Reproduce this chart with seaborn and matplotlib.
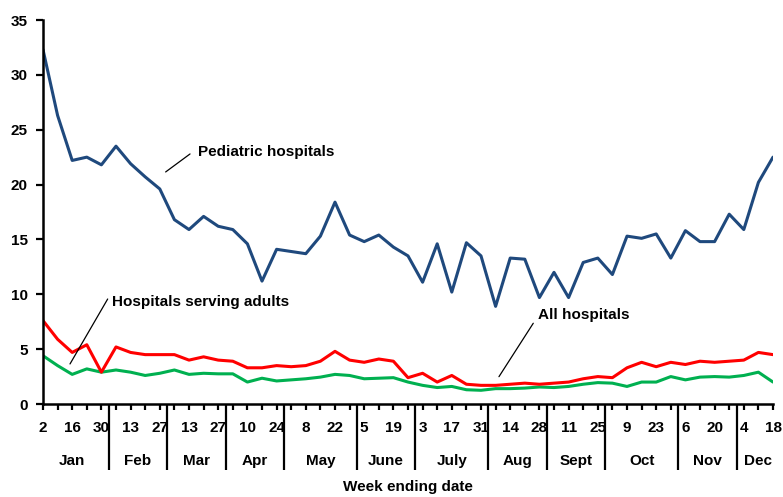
import numpy as np
import pandas as pd
import matplotlib.pyplot as plt
import matplotlib.transforms as mtransforms
import seaborn as sns

# =============================================
# 1. Data
# =============================================
month_names = ["Jan", "Feb", "Mar", "Apr", "May", "June",
               "July", "Aug", "Sept", "Oct", "Nov", "Dec"]
weeks_per_month = [5, 4, 4, 4, 5, 4, 5, 4, 4, 5, 4, 3]
week_days = [2, 9, 16, 23, 30,
             6, 13, 20, 27,
             6, 13, 20, 27,
             3, 10, 17, 24,
             1, 8, 15, 22, 29,
             5, 12, 19, 26,
             3, 10, 17, 24, 31,
             7, 14, 21, 28,
             4, 11, 18, 25,
             2, 9, 16, 23, 30,
             6, 13, 20, 27,
             4, 11, 18]

pediatric = [32.3, 26.3, 22.2, 22.5, 21.8, 23.5, 21.9, 20.7, 19.6, 16.8,
             15.9, 17.1, 16.2, 15.9, 14.6, 11.2, 14.1, 13.9, 13.7, 15.3,
             18.4, 15.4, 14.8, 15.4, 14.3, 13.5, 11.1, 14.6, 10.2, 14.7,
             13.5, 8.9, 13.3, 13.2, 9.7, 12.0, 9.7, 12.9, 13.3, 11.8,
             15.3, 15.1, 15.5, 13.3, 15.8, 14.8, 14.8, 17.3, 15.9, 20.2,
             22.5]
all_hosp = [7.6, 5.9, 4.7, 5.4, 2.9, 5.2, 4.7, 4.5, 4.5, 4.5,
            4.0, 4.3, 4.0, 3.9, 3.3, 3.3, 3.5, 3.4, 3.5, 3.9,
            4.8, 4.0, 3.8, 4.1, 3.9, 2.4, 2.8, 2.0, 2.6, 1.8,
            1.7, 1.7, 1.8, 1.9, 1.8, 1.9, 2.0, 2.3, 2.5, 2.4,
            3.3, 3.8, 3.4, 3.8, 3.6, 3.9, 3.8, 3.9, 4.0, 4.7,
            4.5]
adult_hosp = [4.4, 3.5, 2.7, 3.2, 2.9, 3.1, 2.9, 2.6, 2.8, 3.1,
              2.7, 2.8, 2.75, 2.75, 2.0, 2.35, 2.1, 2.2, 2.3, 2.45,
              2.7, 2.6, 2.3, 2.35, 2.4, 2.0, 1.7, 1.5, 1.6, 1.3,
              1.25, 1.4, 1.4, 1.45, 1.55, 1.5, 1.6, 1.8, 1.95, 1.9,
              1.6, 2.0, 2.0, 2.5, 2.2, 2.45, 2.5, 2.45, 2.6, 2.9,
              2.0]

n = len(week_days)
week_idx = np.arange(n)
df = pd.DataFrame({
    "week": np.tile(week_idx, 3),
    "rate": adult_hosp + all_hosp + pediatric,
    "group": ["Hospitals serving adults"] * n + ["All hospitals"] * n
             + ["Pediatric hospitals"] * n,
})
palette = {"Hospitals serving adults": "#00b050",
           "All hospitals": "#ff0000",
           "Pediatric hospitals": "#1f497d"}

# =============================================
# 2. Plotting
# =============================================
sns.set_theme(style="white")
plt.rcParams["font.family"] = ["Liberation Sans", "DejaVu Sans"]
plt.rcParams["font.weight"] = "bold"
plt.rcParams["text.color"] = "black"
plt.rcParams["axes.labelcolor"] = "black"
plt.rcParams["xtick.color"] = "black"
plt.rcParams["ytick.color"] = "black"

FS = 11

fig = plt.figure(figsize=(7.83, 4.97), dpi=100)
ax = fig.add_axes([43 / 783, 1 - 404 / 497, 730 / 783, 384 / 497])

sns.lineplot(data=df, x="week", y="rate", hue="group",
             hue_order=["Hospitals serving adults", "All hospitals", "Pediatric hospitals"],
             palette=palette, linewidth=2.2, legend=False, ax=ax)

ax.set_xlim(0, n - 1)
ax.set_ylim(0, 35)
ax.set_yticks(np.arange(0, 36, 5))
ax.set_xticks(week_idx)
ax.set_xticklabels([str(d) if i % 2 == 0 else "" for i, d in enumerate(week_days)])
ax.set_ylabel("")
ax.set_xlabel("Week ending date", fontsize=FS, fontweight="bold", color="black")
ax.xaxis.set_label_coords(0.5, -0.197)

for side in ["top", "right"]:
    ax.spines[side].set_visible(False)
for side in ["left", "bottom"]:
    ax.spines[side].set_color("black")
    ax.spines[side].set_linewidth(1.8)

ax.tick_params(axis="y", direction="out", length=5, width=1.6, colors="black",
               left=True, pad=6, labelsize=FS)
ax.tick_params(axis="x", direction="out", length=4, width=1.6, colors="black",
               bottom=True, pad=8, labelsize=FS)
for lab in ax.get_xticklabels() + ax.get_yticklabels():
    lab.set_fontweight("bold")

# month group separators and labels
trans = mtransforms.blended_transform_factory(ax.transData, ax.transAxes)
bounds = np.cumsum(weeks_per_month)[:-1] - 0.5
for b in bounds:
    ax.plot([b, b], [0, -0.172], transform=trans, color="black", lw=1.6,
            clip_on=False, solid_capstyle="butt")
edges = np.concatenate([[-0.5], bounds, [n - 0.5]])
for k, name in enumerate(month_names):
    ax.text((edges[k] + edges[k + 1]) / 2, -0.149, name, transform=trans,
            ha="center", va="center", fontsize=FS, fontweight="bold")

# series labels with pointer lines
ax.text(10.6, 23.0, "Pediatric hospitals", ha="left", va="center",
        fontsize=FS, fontweight="bold")
ax.plot([10.07, 8.40], [22.79, 21.15], color="black", lw=0.9)
ax.text(4.73, 9.3, "Hospitals serving adults", ha="left", va="center",
        fontsize=FS, fontweight="bold")
ax.plot([4.43, 1.85], [9.57, 3.65], color="black", lw=0.9)
ax.text(33.9, 8.11, "All hospitals", ha="left", va="center",
        fontsize=FS, fontweight="bold")
ax.plot([33.58, 31.23], [7.36, 2.49], color="black", lw=0.9)

fig.savefig("out.png", dpi=100)
